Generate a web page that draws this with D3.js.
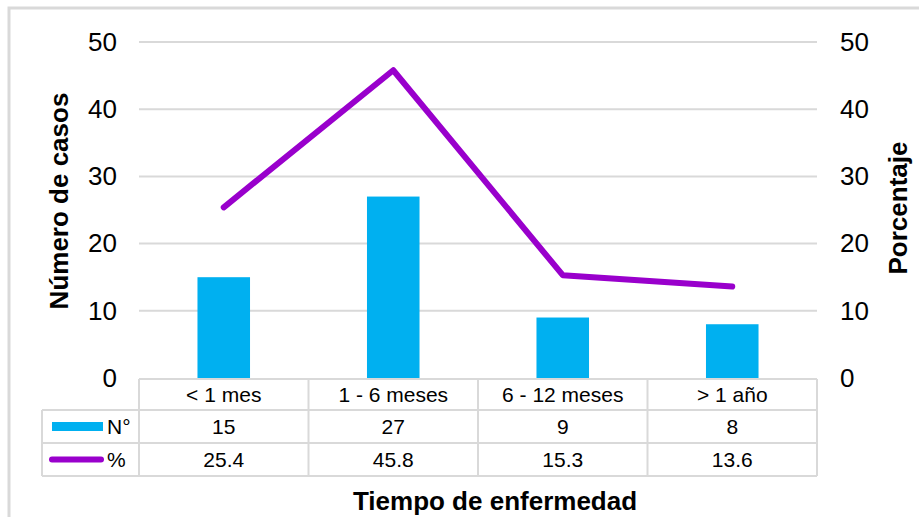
<!DOCTYPE html>
<html>
<head>
<meta charset="utf-8">
<script src="https://cdn.jsdelivr.net/npm/d3@7"></script>
<style>
  html, body { margin: 0; padding: 0; background: #fff; }
  svg { display: block; font-family: "Liberation Sans", Arial, sans-serif; }
</style>
</head>
<body>
<svg id="chart" width="919" height="517"></svg>
<script>
// Tiempo de enfermedad: número de casos (barras) y porcentaje (línea)
const categories = ["< 1 mes", "1 - 6 meses", "6 - 12 meses", "> 1 año"];
const casos = [15, 27, 9, 8];
const porcentaje = [25.4, 45.8, 15.3, 13.6];
const casosLabels = ["15", "27", "9", "8"];
const porcentajeLabels = ["25.4", "45.8", "15.3", "13.6"];
const yTicks = [0, 10, 20, 30, 40, 50];

const svg = d3.select("#chart");
const W = 919, H = 517;

const plot = { left: 139, right: 817, top: 42, bottom: 378 };
const gridColor = "#d9d9d9";
const barColor = "#00b0f0";
const lineColor = "#9900cc";
const tickSize = 26, cellSize = 21, titleSize = 26;

// chart frame
svg.append("rect")
  .attr("x", 9).attr("y", 8)
  .attr("width", W + 20).attr("height", H + 20)
  .attr("fill", "#fff")
  .attr("stroke", gridColor).attr("stroke-width", 3);

const x = d3.scaleBand().domain(categories).range([plot.left, plot.right]).padding(0);
const yL = d3.scaleLinear().domain([0, 50]).range([plot.bottom, plot.top]);
const yR = d3.scaleLinear().domain([0, 50]).range([plot.bottom, plot.top]);

// gridlines
svg.append("g").selectAll("line").data(yTicks.filter(t => t > 0)).join("line")
  .attr("x1", plot.left).attr("x2", plot.right)
  .attr("y1", d => yL(d)).attr("y2", d => yL(d))
  .attr("stroke", gridColor).attr("stroke-width", 2);

// left axis labels
const leftAxis = svg.append("g")
  .attr("transform", `translate(${plot.left - 22},0)`)
  .call(d3.axisLeft(yL).tickValues(yTicks).tickSize(0).tickPadding(0));
leftAxis.select(".domain").remove();
leftAxis.selectAll("text")
  .attr("font-size", tickSize).attr("fill", "#000")
  .attr("font-family", "Liberation Sans, Arial, sans-serif");

// right axis labels
const rightAxis = svg.append("g")
  .attr("transform", `translate(${plot.right + 23},0)`)
  .call(d3.axisRight(yR).tickValues(yTicks).tickSize(0).tickPadding(0));
rightAxis.select(".domain").remove();
rightAxis.selectAll("text")
  .attr("font-size", tickSize).attr("fill", "#000")
  .attr("font-family", "Liberation Sans, Arial, sans-serif");

// bars
const barW = x.bandwidth() * 0.31;
svg.append("g").selectAll("rect").data(categories).join("rect")
  .attr("x", d => x(d) + x.bandwidth() / 2 - barW / 2)
  .attr("width", barW)
  .attr("y", (d, i) => yL(casos[i]))
  .attr("height", (d, i) => yL(0) - yL(casos[i]))
  .attr("fill", barColor);

// percentage line
const line = d3.line()
  .x((d, i) => x(categories[i]) + x.bandwidth() / 2)
  .y(d => yR(d));
svg.append("path")
  .datum(porcentaje)
  .attr("d", line)
  .attr("fill", "none")
  .attr("stroke", lineColor)
  .attr("stroke-width", 6)
  .attr("stroke-linecap", "round")
  .attr("stroke-linejoin", "round");

// data table
const tbl = svg.append("g");
const rowTop = [plot.bottom + 1, 410, 443, 476];
const legendLeft = 42;
const border = (x1, y1, x2, y2) => tbl.append("line")
  .attr("x1", x1).attr("y1", y1).attr("x2", x2).attr("y2", y2)
  .attr("stroke", gridColor).attr("stroke-width", 2);

// horizontal rules
border(plot.left, rowTop[0], plot.right, rowTop[0]);
border(legendLeft, rowTop[1], plot.right, rowTop[1]);
border(legendLeft, rowTop[2], plot.right, rowTop[2]);
border(legendLeft, rowTop[3], plot.right, rowTop[3]);
// vertical rules
border(legendLeft, rowTop[1], legendLeft, rowTop[3]);
categories.forEach(c => border(x(c), rowTop[0], x(c), rowTop[3]));
border(plot.right, rowTop[0], plot.right, rowTop[3]);

const cellText = (txt, cx, cy) => tbl.append("text")
  .attr("x", cx).attr("y", cy)
  .attr("text-anchor", "middle").attr("dominant-baseline", "central")
  .attr("font-size", cellSize).attr("fill", "#000").text(txt);

categories.forEach((c, i) => {
  const cx = x(c) + x.bandwidth() / 2;
  cellText(c, cx, (rowTop[0] + rowTop[1]) / 2);
  cellText(casosLabels[i], cx, (rowTop[1] + rowTop[2]) / 2);
  cellText(porcentajeLabels[i], cx, (rowTop[2] + rowTop[3]) / 2);
});

// legend keys inside the table
const yN = (rowTop[1] + rowTop[2]) / 2;
const yP = (rowTop[2] + rowTop[3]) / 2;
tbl.append("rect")
  .attr("x", 52).attr("y", yN - 4.5).attr("width", 51).attr("height", 9)
  .attr("fill", barColor);
tbl.append("text").attr("x", 107).attr("y", yN)
  .attr("dominant-baseline", "central").attr("font-size", cellSize).text("N°");
tbl.append("line")
  .attr("x1", 52).attr("x2", 101).attr("y1", yP).attr("y2", yP)
  .attr("stroke", lineColor).attr("stroke-width", 6).attr("stroke-linecap", "round");
tbl.append("text").attr("x", 107).attr("y", yP)
  .attr("dominant-baseline", "central").attr("font-size", cellSize).text("%");

// axis titles
svg.append("text")
  .attr("x", 495).attr("y", 510)
  .attr("text-anchor", "middle")
  .attr("font-size", titleSize).attr("font-weight", "bold").text("Tiempo de enfermedad");

svg.append("text")
  .attr("transform", "translate(59,201) rotate(-90)")
  .attr("text-anchor", "middle").attr("dominant-baseline", "central")
  .attr("font-size", titleSize).attr("font-weight", "bold").text("Número de casos");

svg.append("text")
  .attr("transform", "translate(898,208) rotate(-90)")
  .attr("text-anchor", "middle").attr("dominant-baseline", "central")
  .attr("font-size", titleSize).attr("font-weight", "bold").text("Porcentaje");
</script>
</body>
</html>
